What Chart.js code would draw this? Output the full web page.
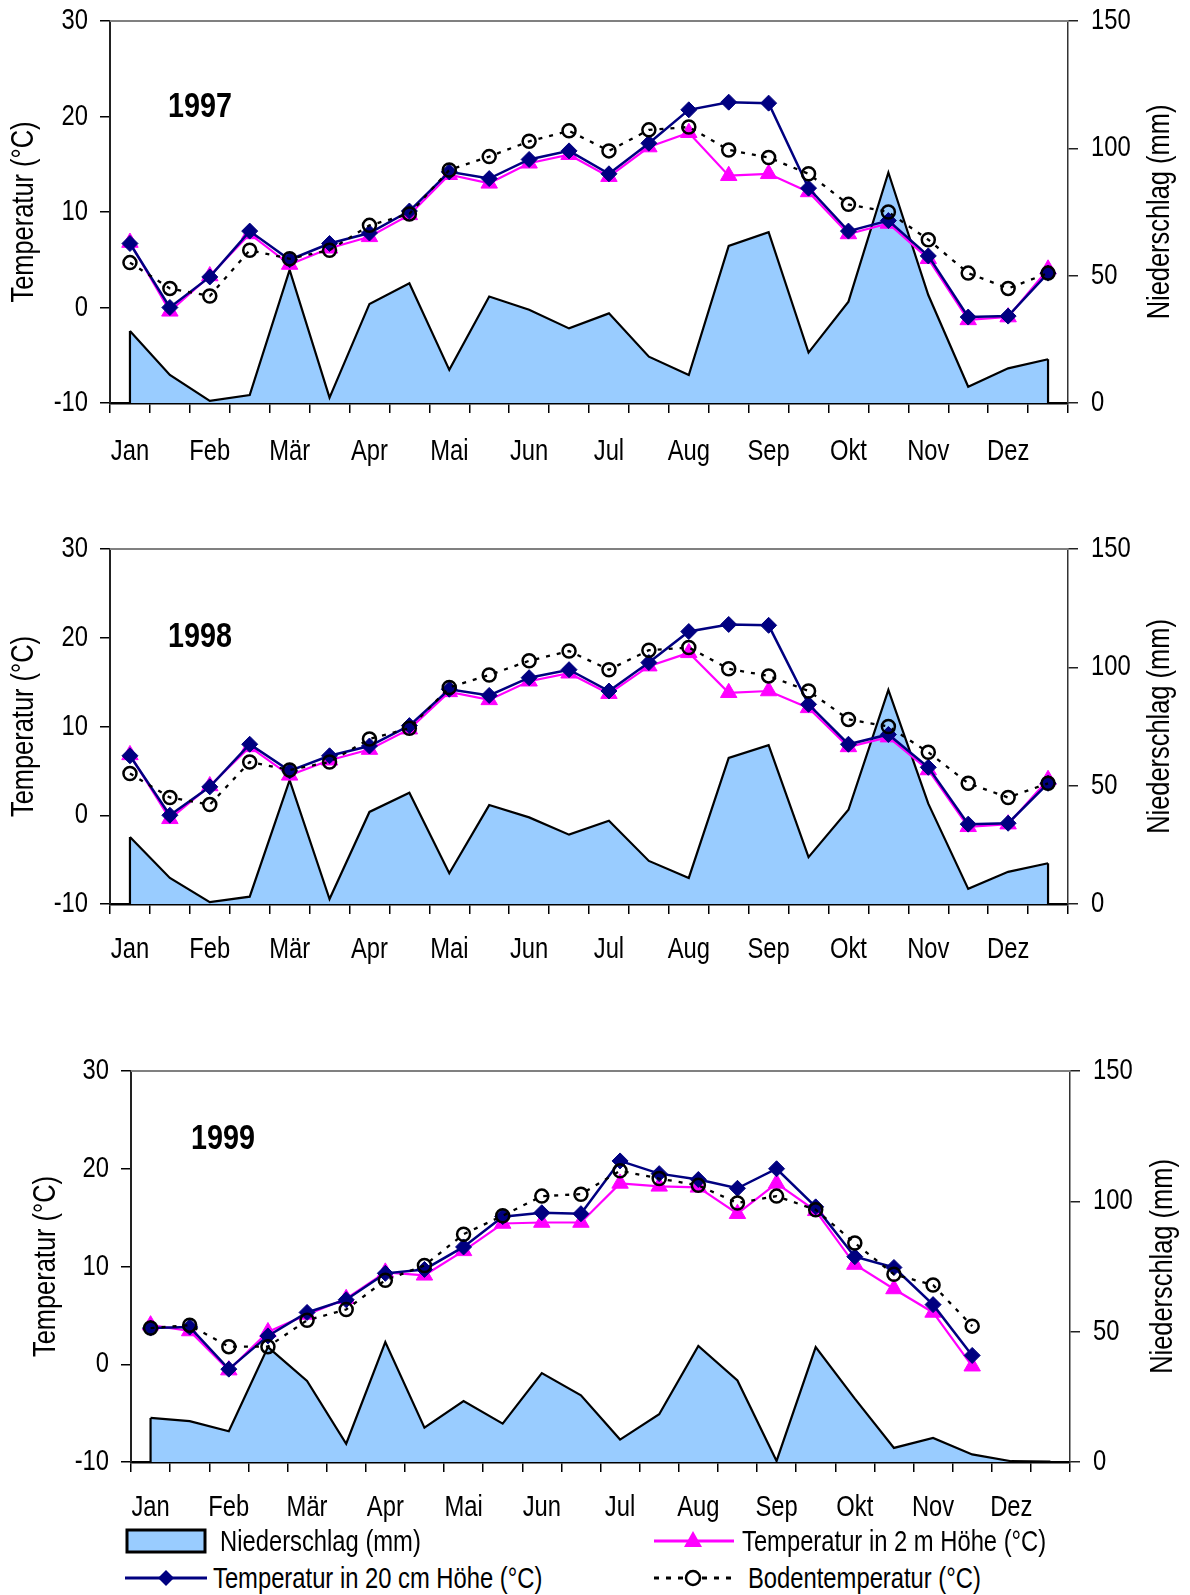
<!DOCTYPE html>
<html>
<head>
<meta charset="utf-8">
<script src="https://cdn.jsdelivr.net/npm/chart.js@4.4.1/dist/chart.umd.min.js"></script>
<style>
 body{margin:0;background:#fff;width:1190px;height:1595px;position:relative;overflow:hidden;
  font-family:'Liberation Sans',Arial,sans-serif;}
 canvas{position:absolute;left:0;}
 .lg{position:absolute;font-size:29px;color:#000;white-space:nowrap;line-height:36px;height:36px;}
 .lg svg{position:absolute;left:0;top:0;}
 .lg span{position:absolute;top:0;transform:scaleX(0.82);transform-origin:left center;}
</style>
</head>
<body>
<canvas id="c1997" width="1190" height="480" style="top:0"></canvas>
<canvas id="c1998" width="1190" height="460" style="top:520px"></canvas>
<canvas id="c1999" width="1190" height="490" style="top:1040px"></canvas>

<div class="lg" style="left:125px;top:1523px;width:400px">
 <svg width="90" height="36"><rect x="2" y="7" width="78" height="22" fill="#99CCFF" stroke="#000" stroke-width="3"/></svg>
 <span style="left:95px">Niederschlag (mm)</span>
</div>
<div class="lg" style="left:654px;top:1523px;width:500px">
 <svg width="90" height="36"><line x1="0" y1="18" x2="80" y2="18" stroke="#FF00FF" stroke-width="3"/><polygon points="39,8 48,24 30,24" fill="#FF00FF"/></svg>
 <span style="left:88px">Temperatur in 2 m Höhe (°C)</span>
</div>
<div class="lg" style="left:125px;top:1560px;width:500px">
 <svg width="90" height="36"><line x1="0" y1="18" x2="82" y2="18" stroke="#000080" stroke-width="3"/><polygon points="41,10 49,18 41,26 33,18" fill="#000080"/></svg>
 <span style="left:88px">Temperatur in 20 cm Höhe (°C)</span>
</div>
<div class="lg" style="left:654px;top:1560px;width:500px">
 <svg width="90" height="36"><line x1="0" y1="18" x2="84" y2="18" stroke="#000" stroke-width="3" stroke-dasharray="5,7"/><circle cx="39" cy="18" r="7" fill="#fff" stroke="#000" stroke-width="2.5"/></svg>
 <span style="left:94px">Bodentemperatur (°C)</span>
</div>

<script>
const FONT="'Liberation Sans',Arial,sans-serif";

/* x labels: half-month steps, month name on every other one */
const xLabels=['Jan','','Feb','','Mär','','Apr','','Mai','','Jun','','Jul','','Aug','','Sep','','Okt','','Nov','','Dez',''];

/* 1997 */
const rain1997=[28.3,11.0,0.8,3.1,52.3,2.1,38.9,47.0,13.0,41.8,36.6,29.3,35.2,18.2,11.0,61.7,67.1,19.8,39.8,90.5,42.4,6.4,13.6,17.2];
const t20_1997=[6.7,0.0,3.2,8.0,5.0,6.7,7.8,10.1,14.2,13.5,15.5,16.4,14.0,17.2,20.7,21.5,21.4,12.5,8.0,9.1,5.4,-1.0,-0.9,3.6];
const t2_1997=[6.8,-0.4,3.3,7.7,4.5,6.2,7.4,9.7,13.9,13.0,15.1,16.0,13.7,16.8,18.3,13.8,14.0,12.1,7.7,8.8,5.1,-1.3,-1.0,4.0];
const boden1997=[4.7,2.0,1.2,6.0,5.1,6.0,8.6,9.8,14.4,15.8,17.4,18.5,16.4,18.6,18.9,16.5,15.7,14.0,10.8,10.0,7.1,3.6,2.0,3.6];

/* 1998 */
const rain1998=[28.3,11.0,0.8,3.1,52.3,2.1,38.9,47.0,13.0,41.8,36.6,29.3,35.2,18.2,11.0,61.7,67.1,19.8,39.8,90.5,42.4,6.4,13.6,17.2];
const t20_1998=[6.7,0.0,3.2,8.0,5.0,6.7,7.8,10.1,14.2,13.5,15.5,16.4,14.0,17.2,20.7,21.5,21.4,12.5,8.0,9.1,5.4,-1.0,-0.9,3.6];
const t2_1998=[6.8,-0.4,3.3,7.7,4.5,6.2,7.4,9.7,13.9,13.0,15.1,16.0,13.7,16.8,18.3,13.8,14.0,12.1,7.7,8.8,5.1,-1.3,-1.0,4.0];
const boden1998=[4.7,2.0,1.2,6.0,5.1,6.0,8.6,9.8,14.4,15.8,17.4,18.5,16.4,18.6,18.9,16.5,15.7,14.0,10.8,10.0,7.1,3.6,2.0,3.6];

/* 1999 (temperatures end mid-November) */
const rain1999=[16.9,15.7,11.8,44.1,31.1,7.0,46.0,13.2,23.4,14.7,34.1,25.6,8.6,18.3,44.5,31.3,0.4,44.1,24.3,5.4,9.2,2.9,0.3,0.2];
const t20_1999=[3.7,3.8,-0.5,2.9,5.3,6.6,9.3,9.7,12.0,15.1,15.5,15.4,20.8,19.5,18.9,18.0,20.0,16.1,11.0,9.9,6.1,0.9];
const t2_1999=[4.0,3.4,-0.6,3.3,5.1,6.7,9.4,9.1,11.6,14.4,14.5,14.5,18.5,18.2,18.1,15.4,18.5,15.7,10.2,7.7,5.3,-0.2];
const boden1999=[3.7,4.0,1.8,1.8,4.5,5.6,8.6,10.1,13.3,15.2,17.2,17.4,19.8,19.0,18.3,16.5,17.2,15.8,12.4,9.2,8.1,3.9];

/* squeeze all canvas text horizontally, like a narrow face */
const narrow={
 id:'narrow',
 install(chart){
  const ctx=chart.ctx, fill=ctx.fillText.bind(ctx);
  ctx.fillText=function(t,x,y){
   ctx.save();ctx.translate(x,y);ctx.scale(0.82,1);fill(t,0,0);ctx.restore();
  };
 }
};

/* area outline: vertical edges at the first and last point, frame top, year + right title */
const extras={
 id:'extras',
 afterDatasetDraw(chart,args){
  if(args.index!==3)return;
  const pts=args.meta.data, ctx=chart.ctx, base=chart.scales.y1.getPixelForValue(0);
  ctx.save();
  ctx.strokeStyle='#000';ctx.lineWidth=2.2;
  [pts[0],pts[pts.length-1]].forEach(p=>{
   ctx.beginPath();ctx.moveTo(p.x,p.y);ctx.lineTo(p.x,base);ctx.stroke();
  });
  ctx.restore();
 },
 afterDraw(chart,args,o){
  const ctx=chart.ctx, a=chart.chartArea;
  ctx.save();
  ctx.strokeStyle='#808080';ctx.lineWidth=2;
  ctx.beginPath();ctx.moveTo(a.left,a.top);ctx.lineTo(a.right,a.top);ctx.stroke();
  ctx.fillStyle='#000';
  ctx.font='bold 35px '+FONT;
  ctx.textAlign='left';ctx.textBaseline='middle';
  ctx.fillText(o.year,a.left+o.dx,a.top+o.dy);
  ctx.font='31px '+FONT;
  ctx.translate(a.right+o.rx,(a.top+a.bottom)/2);
  ctx.rotate(-Math.PI/2);
  ctx.textAlign='center';
  ctx.fillText('Niederschlag (mm)',0,0);
  ctx.restore();
 }
};

function makeChart(id,rain,t20,t2,boden,lay){
 const tickFont={family:FONT,size:29};
 return new Chart(document.getElementById(id),{
  type:'line',
  data:{labels:xLabels,datasets:[
   {label:'Bodentemperatur (°C)',data:boden,yAxisID:'y',order:0,
    borderColor:'#000',borderWidth:2.3,borderDash:[4,7],
    pointStyle:'circle',pointRadius:6.5,pointBorderWidth:2.5,pointBorderColor:'#000',pointBackgroundColor:'rgba(0,0,0,0)'},
   {label:'Temperatur in 20 cm Höhe (°C)',data:t20,yAxisID:'y',order:1,
    borderColor:'#000080',borderWidth:2.5,
    pointStyle:'rectRot',pointRadius:8,pointBorderWidth:1,pointBorderColor:'#000080',pointBackgroundColor:'#000080'},
   {label:'Temperatur in 2 m Höhe (°C)',data:t2,yAxisID:'y',order:2,
    borderColor:'#FF00FF',borderWidth:2.2,
    pointStyle:'triangle',pointRadius:9.5,pointBorderWidth:1,pointBorderColor:'#FF00FF',pointBackgroundColor:'#FF00FF'},
   {label:'Niederschlag (mm)',data:rain,yAxisID:'y1',order:3,
    fill:'origin',backgroundColor:'#99CCFF',borderColor:'#000',borderWidth:2.2,pointRadius:0}
  ]},
  options:{
   responsive:false,animation:false,
   layout:{padding:{top:lay.top,left:0,right:0,bottom:0}},
   plugins:{legend:{display:false},tooltip:{enabled:false},
    extras:{year:lay.year,dx:lay.dx,dy:lay.dy,rx:lay.rx}},
   elements:{line:{tension:0}},
   scales:{
    x:{offset:true,
     grid:{display:true,drawOnChartArea:false,offset:true,tickLength:10,color:'#000',lineWidth:1.5},
     border:{color:'#000',width:2.5},
     ticks:{autoSkip:false,maxRotation:0,minRotation:0,color:'#000',font:tickFont,padding:lay.xpad},
     afterFit(s){s.height=lay.xh;}},
    y:{position:'left',min:-10,max:30,
     ticks:{stepSize:10,color:'#000',font:tickFont,padding:12},
     grid:{display:true,drawOnChartArea:false,tickLength:10,color:'#000',lineWidth:1.5},
     border:{color:'#222',width:2},
     title:{display:true,text:'Temperatur (°C)',color:'#000',font:{family:FONT,size:31},padding:{top:lay.tpad,bottom:0}},
     afterFit(s){s.width=lay.lw;s.paddingTop=0;s.paddingBottom=0;}},
    y1:{position:'right',min:0,max:150,
     ticks:{stepSize:50,color:'#000',font:tickFont,padding:13},
     grid:{display:true,drawOnChartArea:false,tickLength:10,color:'#222',lineWidth:1.5},
     border:{color:'#333',width:1.5},
     afterFit(s){s.width=lay.rw;s.paddingTop=0;s.paddingBottom=0;}}
   }
  },
  plugins:[narrow,extras]
 });
}

makeChart('c1997',rain1997,t20_1997,t2_1997,boden1997,
 {top:21,xh:77,xpad:22,lw:110,rw:122,tpad:6,year:'1997',dx:58,dy:86,rx:92});
makeChart('c1998',rain1998,t20_1998,t2_1998,boden1998,
 {top:29,xh:76,xpad:19,lw:110,rw:122,tpad:6,year:'1998',dx:58,dy:88,rx:92});
makeChart('c1999',rain1999,t20_1999,t2_1999,boden1999,
 {top:31,xh:68,xpad:19,lw:131,rw:120,tpad:28,year:'1999',dx:60,dy:68,rx:93});
</script>
</body>
</html>
